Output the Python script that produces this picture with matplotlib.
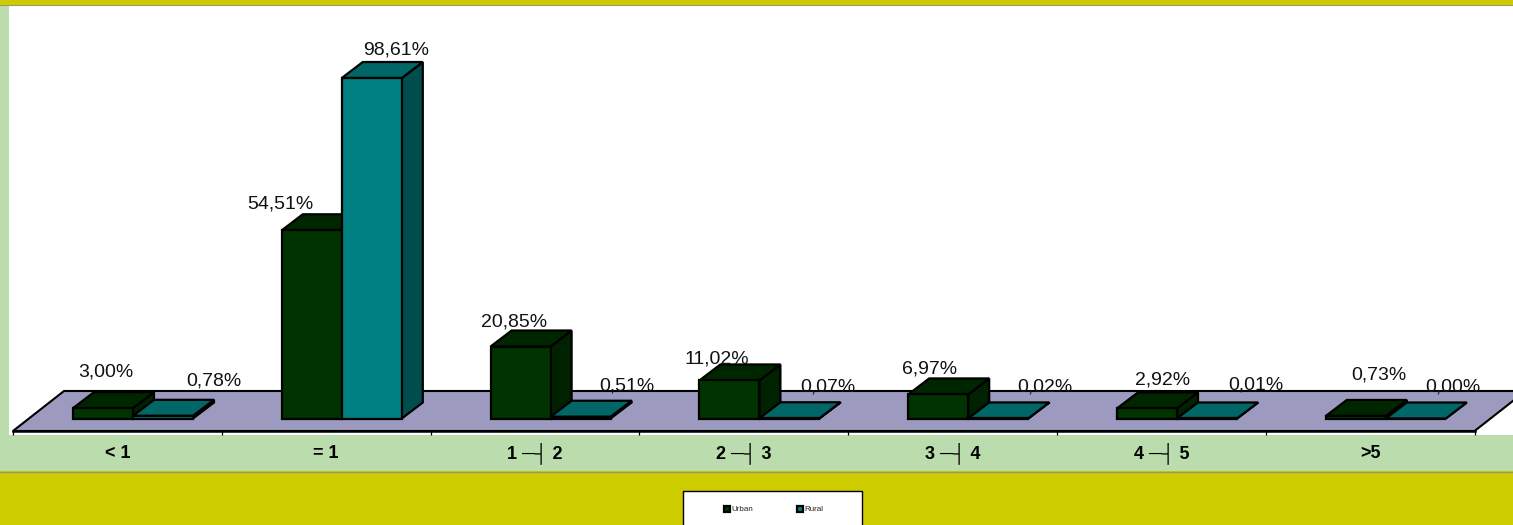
import matplotlib
matplotlib.use('Agg')
import matplotlib.pyplot as plt
from matplotlib.patches import Polygon, Rectangle

plt.rcParams['font.family'] = ['Liberation Sans', 'DejaVu Sans']

categories = ['< 1', '= 1', '1 ─┤ 2', '2 ─┤ 3', '3 ─┤ 4', '4 ─┤ 5', '>5']
urban = [3.00, 54.51, 20.85, 11.02, 6.97, 2.92, 0.73]
rural = [0.78, 98.61, 0.51, 0.07, 0.02, 0.01, 0.00]
series_names = ['Urban', 'Rural']

# label nudges in pixels from the middle of the bar top, the labels are staggered
urban_nudge = [(3, 36), (-31, 26), (-7, 25), (-13, 21), (-9, 25), (16, 28), (23, 41)]
rural_nudge = [(51, 35), (24, 28), (46, 31), (38, 31), (47, 31), (49, 33), (37, 32)]

W, H = 1513, 525
DPI = 100
CAT_PX = 208.8       # pixels per category
PCT_PX = 3.453       # pixels per percent
X0_PX, Y0_PX = 13, 418.5
BAR_W = 60 / CAT_PX
DX, DY = 21 / CAT_PX, 16 / PCT_PX            # bar depth
FLOOR_DX, FLOOR_DY = 51 / CAT_PX, 40 / PCT_PX
FLOOR_Y = -12.5 / PCT_PX

YELLOW = '#CCCC00'
GREEN = '#BBDDAE'
FLOOR = '#9C9ABF'
URBAN_COL = ('#003300', '#002600', '#002200')   # front, top, side
RURAL_COL = ('#008080', '#006666', '#004D4D')

fig = plt.figure(figsize=(W / DPI, H / DPI), dpi=DPI, facecolor=YELLOW)

# page furniture, in pixel coordinates
bg = fig.add_axes([0, 0, 1, 1])
bg.set_xlim(0, W)
bg.set_ylim(H, 0)
bg.axis('off')
bg.add_patch(Rectangle((0, 5), W, 466, fc=GREEN, ec='none'))
bg.add_patch(Rectangle((9, 5), W - 9, 430, fc='white', ec='none'))
bg.plot([0, W], [471.5, 471.5], color='#9A9A70', lw=1)
bg.plot([0, W], [5, 5], color='#9A9A70', lw=0.8)
bg.add_patch(Rectangle((682.5, 491), 179, 50, fc='white', ec='black', lw=1))
for name, x, col in zip(series_names, [727, 800], [URBAN_COL[0], RURAL_COL[0]]):
    bg.plot([x], [509], marker='s', ms=4.5, mfc=col, mec='black', mew=1.6)
    bg.text(x + 4, 509.5, name, fontsize=5.8, va='center', ha='left', color='#222222')

# chart axes share the figure area
ax = fig.add_axes([0, 0, 1, 1], facecolor='none')
ax.set_xlim(-X0_PX / CAT_PX, (W - X0_PX) / CAT_PX)
ax.set_ylim((Y0_PX - H) / PCT_PX, Y0_PX / PCT_PX)
for s in ['top', 'left', 'right']:
    ax.spines[s].set_visible(False)
ax.spines['bottom'].set_position(('data', FLOOR_Y))
ax.spines['bottom'].set_bounds(0, len(categories))
ax.spines['bottom'].set_linewidth(1.8)
ax.set_yticks([])
ax.set_xticks(range(len(categories) + 1))
ax.set_xticklabels([])
ax.set_xticks([i + 0.5 for i in range(len(categories))], minor=True)
ax.set_xticklabels(categories, minor=True, fontweight='bold', fontsize=13, va='baseline')
ax.tick_params(axis='x', which='major', length=3, width=0.9, direction='out')
ax.tick_params(axis='x', which='minor', length=0, pad=19.3)

n = len(categories)
ax.add_patch(Polygon([(0, FLOOR_Y), (n, FLOOR_Y),
                      (n + FLOOR_DX, FLOOR_Y + FLOOR_DY), (FLOOR_DX, FLOOR_Y + FLOOR_DY)],
                     closed=True, fc=FLOOR, ec='black', lw=1.5, joinstyle='miter', zorder=1))


def bar3d(left, height, colors):
    right = left + BAR_W
    ax.add_patch(Polygon([(right, 0), (right + DX, DY), (right + DX, height + DY), (right, height)],
                         closed=True, fc=colors[2], ec='black', lw=1.6, zorder=2))
    ax.add_patch(Polygon([(left, height), (right, height), (right + DX, height + DY), (left + DX, height + DY)],
                         closed=True, fc=colors[1], ec='black', lw=1.6, zorder=2))
    ax.bar(left, height, BAR_W, align='edge', color=colors[0], edgecolor='black', lw=1.6, zorder=2)


def put_label(x, value, nudge):
    txt = '{:.2f}%'.format(value).replace('.', ',')
    ax.annotate(txt, (x, value), xytext=nudge, textcoords='offset pixels',
                ha='center', va='center', fontsize=14, color='#111111', zorder=5)


for i in range(n):
    left = i + BAR_W
    bar3d(left, urban[i], URBAN_COL)
    bar3d(left + BAR_W, rural[i], RURAL_COL)
    put_label(left + BAR_W / 2, urban[i], urban_nudge[i])
    put_label(left + 1.5 * BAR_W, rural[i], rural_nudge[i])

fig.savefig('out.png', dpi=DPI, facecolor=fig.get_facecolor())
